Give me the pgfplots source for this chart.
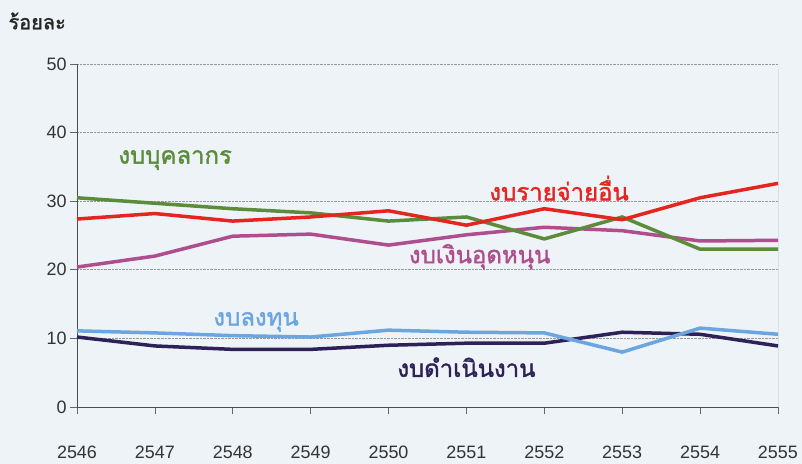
\documentclass[border=0pt]{standalone}
\usepackage{pgfplots}
\pgfplotsset{compat=1.18}
\usepackage{fontspec}
\setmainfont{Liberation Sans}
\newfontfamily\thaifont[Script=Thai]{Loma}
\newfontfamily\thaibold[Script=Thai,FakeBold=1.5]{Loma}
\definecolor{bg}{HTML}{EEF3F7}
\definecolor{cgreen}{HTML}{5B8C3A}
\definecolor{cred}{HTML}{E42520}
\definecolor{cmag}{HTML}{AE4E8C}
\definecolor{cblue}{HTML}{6CA6E0}
\definecolor{cnavy}{HTML}{2E2158}
\begin{document}
\begin{tikzpicture}[x=1bp,y=1bp]
\fill[bg] (-77,-57) rectangle (725,407);
\path[use as bounding box] (-77,-57) rectangle (725,407);
\node[anchor=west,font=\thaibold\fontsize{20}{20}\selectfont, text=black!85] at (-72,386) {ร้อยละ};
\begin{axis}[
  at={(0,0)}, anchor=south west,
  width=701bp, height=343bp, scale only axis,
  xmin=2546, xmax=2555, ymin=0, ymax=50,
  xtick={2546,2547,...,2555}, ytick={0,10,...,50},
  axis x line=bottom, axis y line=left,
  axis line style={-, black!70, line width=0.8bp},
  tick align=outside, major tick length=7bp,
  tick style={black!60, line width=0.6bp},
  ymajorgrids, grid style={densely dotted, black!40, line width=0.8bp},
  xticklabel style={yshift=-28bp},
  ticklabel style={font=\fontsize{18}{18}\selectfont, text=black!80},
  /pgf/number format/.cd, set thousands separator={}, assume math mode=true,
]
\draw[black!60, line width=0.8bp] (axis cs:2555,0) -- (axis cs:2555,49.2);
% navy
\addplot[cnavy, line width=3.5bp, no marks] coordinates {
(2546,10.2) (2547,8.9) (2548,8.4) (2549,8.4) (2550,9.0) (2551,9.3) (2552,9.3) (2553,10.9) (2554,10.6) (2555,8.9)};
% light blue
\addplot[cblue, line width=3.5bp, no marks] coordinates {
(2546,11.1) (2547,10.8) (2548,10.4) (2549,10.2) (2550,11.2) (2551,10.9) (2552,10.8) (2553,8.0) (2554,11.5) (2555,10.6)};
% magenta
\addplot[cmag, line width=3.5bp, no marks] coordinates {
(2546,20.4) (2547,22.0) (2548,24.9) (2549,25.2) (2550,23.6) (2551,25.1) (2552,26.2) (2553,25.7) (2554,24.2) (2555,24.3)};
% green
\addplot[cgreen, line width=3.5bp, no marks] coordinates {
(2546,30.5) (2547,29.7) (2548,28.9) (2549,28.3) (2550,27.1) (2551,27.7) (2552,24.5) (2553,27.7) (2554,23.0) (2555,23.0)};
% red
\addplot[cred, line width=3.5bp, no marks] coordinates {
(2546,27.4) (2547,28.2) (2548,27.1) (2549,27.7) (2550,28.6) (2551,26.5) (2552,28.9) (2553,27.3) (2554,30.5) (2555,32.6)};
\node[font=\thaibold\fontsize{24}{24}\selectfont, text=cgreen] at (axis cs:2547.26,36.0) {งบบุคลากร};
\node[font=\thaibold\fontsize{24}{24}\selectfont, text=cred] at (axis cs:2552.19,31.9) {งบรายจ่ายอื่น};
\node[font=\thaibold\fontsize{24}{24}\selectfont, text=cmag] at (axis cs:2551.17,21.9) {งบเงินอุดหนุน};
\node[font=\thaibold\fontsize{24}{24}\selectfont, text=cblue] at (axis cs:2548.3,12.4) {งบลงทุน};
\node[font=\thaibold\fontsize{24}{24}\selectfont, text=cnavy] at (axis cs:2551.0,5.8) {งบดำเนินงาน};
\end{axis}
\end{tikzpicture}
\end{document}
